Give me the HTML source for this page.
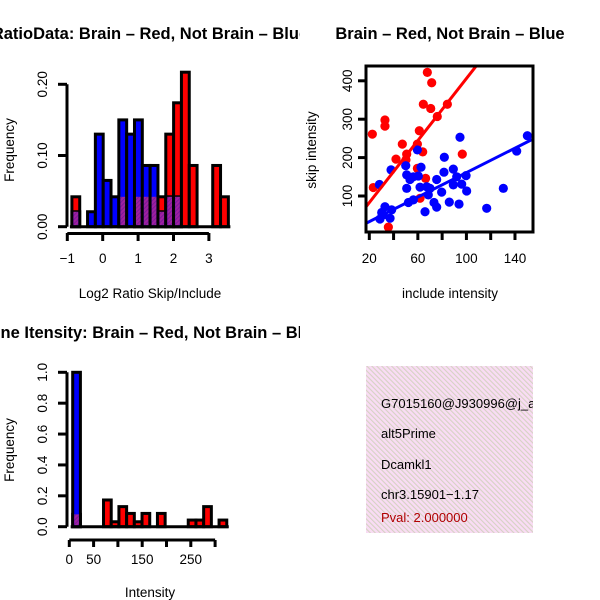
<!DOCTYPE html>
<html><head><meta charset="utf-8"><style>
body{margin:0;background:#fff}
svg{display:block;font-family:"Liberation Sans",sans-serif}
</style></head><body>
<svg id="c" width="600" height="600" viewBox="0 0 600 600">
<defs>
<pattern id="hatch" width="3.5" height="3.5" patternUnits="userSpaceOnUse" patternTransform="rotate(-45)">
<rect width="3.5" height="3.5" fill="#f9dcf4"/><rect width="1.1" height="3.5" fill="#d6d2c4"/></pattern>
<pattern id="purp" width="3" height="3" patternUnits="userSpaceOnUse" patternTransform="rotate(45)">
<rect width="3" height="3" fill="#a020a0"/><rect width="1" height="3" fill="#7a1a9a"/></pattern>
<clipPath id="cl1"><rect x="0" y="0" width="300" height="300"/></clipPath>
<clipPath id="cl2"><rect x="366" y="66" width="167" height="166"/></clipPath>
<clipPath id="cl4"><rect x="366" y="366" width="167" height="167"/></clipPath>
</defs>
<g id="p1"></g>
<g id="p2"></g>
<g id="p3"></g>
<g id="p4">
<rect x="366" y="366" width="167" height="167" fill="url(#hatch)"/>
<g clip-path="url(#cl4)" font-size="13">
<text x="381" y="408">G7015160@J930996@j_at</text>
<text x="381" y="438">alt5Prime</text>
<text x="381" y="469">Dcamkl1</text>
<text x="381" y="499">chr3.15901−1.17</text>
<text x="381" y="522" fill="#b00000">Pval: 2.000000</text>
</g></g>
</svg>
<script>
// Panel 1 data (Log2 ratio histogram)
const ratioBinStart = -0.87;
const ratioBinWidth = 0.221;
const ratioRed  = [0.042,0,0,0,0,0,0.042,0,0.042,0.042,0.042,0.042,0.13,0.174,0.217,0.086,0,0,0.086,0.042];
const ratioBlue = [0.021,0,0.021,0.13,0.065,0.042,0.15,0.13,0.15,0.086,0.086,0.021,0.042,0.042,0,0,0,0,0,0];
const ratioXTicks = [-1,0,1,2,3];
const ratioYTicks = [0,0.1,0.2];
const ratioYTickLabels = ["0.00","0.10","0.20"];
// Panel 2 data (scatter)
const redInclude = [67.8,71.4,64.5,70.6,84.3,76.0,32.9,32.9,22.5,61.2,47.2,59.6,64.0,42.0,50.8,50.2,66.4,23.3,61.8,35.7,96.6,59.6];
const redSkip    = [422,395,339,328,339,307,298,282,261,270,235,235,215,196,209,194,146,122,94,19,209,172];
const blueInclude = [94.7,150.2,141.4,59.6,81.8,37.9,50.0,62.6,89.2,50.8,56.3,60.4,99.7,53.5,75.5,92.0,81.5,28.3,67.3,61.8,50.8,70.0,89.2,96.1,100.2,130.4,79.6,68.6,56.3,52.2,85.9,93.9,73.3,75.5,65.9,116.7,32.9,38.4,30.2,31.6,28.8,37.1];
const blueSkip    = [253,257,217,220,201,168,179,175,170,155,150,152,153,143,143,150,162,130,124,123,120,120,129,131,113,120,110,103,90,83,84,79,83,71,59,68,72,64,57,51,40,42];
const redFit = [2, 4.04];   // intercept, slope
const blueFit = [1.4, 1.595];
const scXTicks = [20,40,60,80,100,120,140];
const scXLabels = ["20","","60","","100","","140"];
const scYTicks = [100,200,300,400];
// Panel 3 data (intensity histogram)
const intBinStart = 7;
const intBinWidth = 15.85;
const intRed  = [0.08,0,0,0,0.173,0.032,0.13,0.086,0.032,0.086,0,0.086,0,0,0,0.043,0.043,0.13,0,0.043];
const intBlue = [1.0,0,0,0,0,0,0,0,0,0,0,0,0,0,0,0,0,0,0,0];
const intXTicks = [0,50,100,150,200,250,300];
const intXLabels = ["0","50","","150","","250",""];
const intYTicks = [0,0.2,0.4,0.6,0.8,1.0];
const intYLabels = ["0.0","0.2","0.4","0.6","0.8","1.0"];

const NS="http://www.w3.org/2000/svg";
const TF=16.5, LF=13.5;
function mk(parent,tag,attrs,txt){const e=document.createElementNS(NS,tag);for(const k in attrs)e.setAttribute(k,attrs[k]);if(txt!==undefined)e.textContent=txt;parent.appendChild(e);return e;}

function hist(g,x,y,start,w,red,blue,name){
  for(let i=0;i<red.length;i++){
    const x0=x(start+i*w),x1=x(start+(i+1)*w);
    const r=red[i],b=blue[i],m=Math.min(r,b);
    if(r>0){const e=mk(g,'rect',{x:x0,y:y(r),width:x1-x0,height:y(0)-y(r),fill:'#ff0000',stroke:'#000','stroke-width':3});
      }
    if(b>0){const e=mk(g,'rect',{x:x0,y:y(b),width:x1-x0,height:y(0)-y(b),fill:'#0000ff',stroke:'#000','stroke-width':3});
      }
    if(m>0){const e=mk(g,'rect',{x:x0+1.5,y:y(m),width:x1-x0-3,height:y(0)-y(m)-1.5,fill:'url(#purp)'});
      }
  }
  mk(g,'line',{x1:x(start)-2,x2:x(start+red.length*w)+2,y1:y(0),y2:y(0),stroke:'#000','stroke-width':3});
}

// Panel 1
(function(){
  const g=document.getElementById('p1');
  const x=v=>67.3+(v+1)*35.4, y=v=>226.7-v*712;
  const cg=mk(g,'g',{'clip-path':'url(#cl1)'});
  const t=mk(cg,'text',{x:150,y:39,'text-anchor':'middle','font-size':TF,'font-weight':'bold'},'RatioData: Brain – Red, Not Brain – Blue');
  
  hist(g,x,y,ratioBinStart,ratioBinWidth,ratioRed,ratioBlue,'ratio');
  mk(g,'line',{x1:67,x2:67,y1:y(0.2),y2:y(0),stroke:'#000','stroke-width':3});
  ratioYTicks.forEach((v,i)=>{mk(g,'line',{x1:58,x2:67,y1:y(v),y2:y(v),stroke:'#000','stroke-width':3});
    const e=mk(g,'text',{x:0,y:0,transform:`translate(47,${y(v)}) rotate(-90)`,'text-anchor':'middle','font-size':LF},ratioYTickLabels[i]);
    });
  mk(g,'line',{x1:x(-1),x2:x(3),y1:233.5,y2:233.5,stroke:'#000','stroke-width':3});
  ratioXTicks.forEach(v=>{mk(g,'line',{x1:x(v),x2:x(v),y1:233,y2:241,stroke:'#000','stroke-width':3});
    const e=mk(g,'text',{x:x(v),y:263,'text-anchor':'middle','font-size':LF},v<0?'−'+(-v):String(v));
    });
  let e=mk(g,'text',{x:150,y:298,'text-anchor':'middle','font-size':LF},'Log2 Ratio Skip/Include');
  
  e=mk(g,'text',{x:0,y:0,transform:'translate(14,150) rotate(-90)','text-anchor':'middle','font-size':LF},'Frequency');
  
})();

// Panel 2
(function(){
  const g=document.getElementById('p2');
  const x=v=>369.3+(v-20)*1.214, y=v=>196-(v-100)*0.384;
  let e=mk(g,'text',{x:450,y:39,'text-anchor':'middle','font-size':TF,'font-weight':'bold'},'Brain – Red, Not Brain – Blue');
  
  const pg=mk(g,'g',{'clip-path':'url(#cl2)'});
  redInclude.forEach((v,i)=>{const c=mk(pg,'circle',{cx:x(v),cy:y(redSkip[i]),r:4.6,fill:'#ff0000'});
    });
  blueInclude.forEach((v,i)=>{const c=mk(pg,'circle',{cx:x(v),cy:y(blueSkip[i]),r:4.6,fill:'#0000ff'});
    });
  const lx0=0,lx1=200;
  e=mk(pg,'line',{x1:x(lx0),y1:y(redFit[0]+redFit[1]*lx0),x2:x(lx1),y2:y(redFit[0]+redFit[1]*lx1),stroke:'#ff0000','stroke-width':3});
  
  e=mk(pg,'line',{x1:x(lx0),y1:y(blueFit[0]+blueFit[1]*lx0),x2:x(lx1),y2:y(blueFit[0]+blueFit[1]*lx1),stroke:'#0000ff','stroke-width':3});
  
  e=mk(g,'rect',{x:366,y:66,width:167,height:166,fill:'none',stroke:'#000','stroke-width':3});
  
  scXTicks.forEach((v,i)=>{mk(g,'line',{x1:x(v),x2:x(v),y1:232,y2:240,stroke:'#000','stroke-width':3});
    if(scXLabels[i]){const t=mk(g,'text',{x:x(v),y:263,'text-anchor':'middle','font-size':LF},scXLabels[i]);
    }});
  scYTicks.forEach(v=>{mk(g,'line',{x1:358,x2:366,y1:y(v),y2:y(v),stroke:'#000','stroke-width':3});
    const t=mk(g,'text',{x:0,y:0,transform:`translate(352,${y(v)}) rotate(-90)`,'text-anchor':'middle','font-size':LF},String(v));
    });
  e=mk(g,'text',{x:450,y:298,'text-anchor':'middle','font-size':LF},'include intensity');
  
  e=mk(g,'text',{x:0,y:0,transform:'translate(316,150) rotate(-90)','text-anchor':'middle','font-size':LF},'skip intensity');
  
})();

// Panel 3
(function(){
  const g=document.getElementById('p3');
  const x=v=>69.3+v*0.486, y=v=>526.7-v*154.4;
  const cg=mk(g,'g',{'clip-path':'url(#cl1)',transform:'translate(0,300)'});
  let e=mk(cg,'text',{x:150,y:38,'text-anchor':'middle','font-size':TF,'font-weight':'bold'},'Gene Itensity: Brain – Red, Not Brain – Blue');
  
  hist(g,x,y,intBinStart,intBinWidth,intRed,intBlue,'intensity');
  mk(g,'line',{x1:67,x2:67,y1:y(1),y2:y(0),stroke:'#000','stroke-width':3});
  intYTicks.forEach((v,i)=>{mk(g,'line',{x1:58,x2:67,y1:y(v),y2:y(v),stroke:'#000','stroke-width':3});
    const t=mk(g,'text',{x:0,y:0,transform:`translate(47,${y(v)}) rotate(-90)`,'text-anchor':'middle','font-size':LF},intYLabels[i]);
    });
  mk(g,'line',{x1:x(0),x2:x(300),y1:540,y2:540,stroke:'#000','stroke-width':3});
  intXTicks.forEach((v,i)=>{mk(g,'line',{x1:x(v),x2:x(v),y1:540,y2:547,stroke:'#000','stroke-width':3});
    if(intXLabels[i]){const t=mk(g,'text',{x:x(v),y:564,'text-anchor':'middle','font-size':LF},intXLabels[i]);
    }});
  e=mk(g,'text',{x:150,y:597,'text-anchor':'middle','font-size':LF},'Intensity');
  
  e=mk(g,'text',{x:0,y:0,transform:'translate(14,450) rotate(-90)','text-anchor':'middle','font-size':LF},'Frequency');
  
})();
</script>
</body></html>
